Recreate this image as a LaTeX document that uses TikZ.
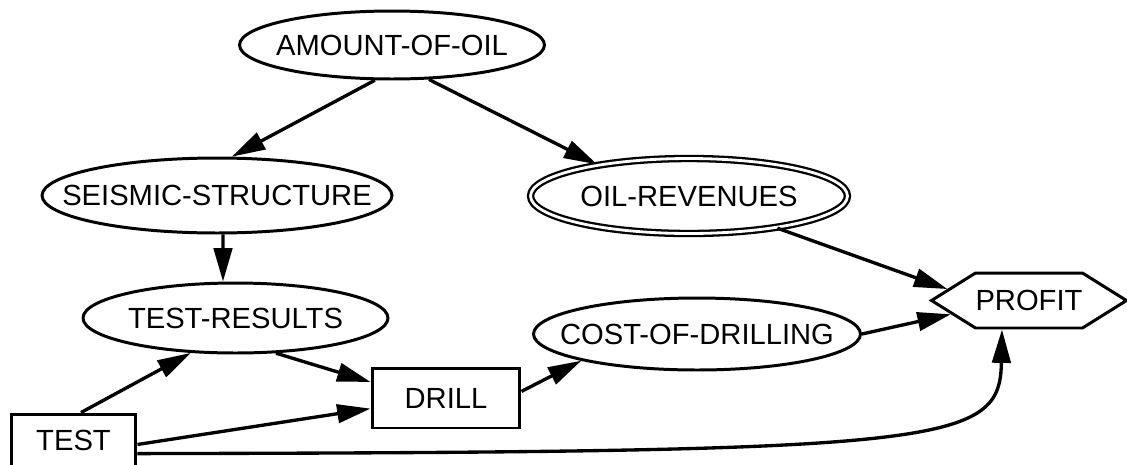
\documentclass[tikz,border=0pt]{standalone}
\usepackage{fontspec}
\setmainfont{Liberation Sans}
\usetikzlibrary{shapes.geometric,shapes.symbols,arrows.meta}

\begin{document}
\begin{tikzpicture}[x=0.02cm, y=-0.02cm,
		every node/.style={font=\fontsize{16.6pt}{19pt}\selectfont},
		oval/.style={ellipse, draw, line width=1.7pt, inner sep=0pt},
		box/.style={rectangle, draw, line width=1.7pt, inner sep=0pt},
		arr/.style={-{Triangle[length=19pt,width=10.5pt]}, line width=1.9pt}]
		\useasboundingbox (0,0) rectangle (1127,464);
		
		\node[oval, minimum width=6.1cm, minimum height=1.36cm, label=center:{AMOUNT-OF-OIL}] (amount) at (392,45) {};
		\node[oval, minimum width=7cm, minimum height=1.5cm, label=center:{SEISMIC-STRUCTURE}] (seismic) at (217,195.5) {};
		\node[oval, minimum width=6.1cm, minimum height=1.4cm, label=center:{TEST-RESULTS}] (results) at (235.5,318) {};
		\node[oval, double, double distance=1.6pt, line width=1.3pt, minimum width=6.34cm, minimum height=1.5cm, label=center:{OIL-REVENUES}] (oil) at (689,196) {};
		\node[oval, minimum width=6.54cm, minimum height=1.44cm, label=center:{COST-OF-DRILLING}] (cost) at (697,334) {};
		\node[box, minimum width=2.96cm, minimum height=1.2cm] (drill) at (446,398) {DRILL};
		\node[box, minimum width=2.5cm, minimum height=1.04cm] (test) at (73.5,440) {TEST};
		\node[signal, draw, line width=1.7pt, signal to=west and east, signal pointer angle=64, inner xsep=0pt, minimum height=1.1cm] (profit) at (1029,300.5) {PROFIT};
		
		\draw[arr] (amount.244) -- (seismic.69);
		\draw[arr] (amount.317) -- (oil.161);
		\draw[arr] ([xshift=0.12cm]seismic.south) -- ([xshift=-0.25cm]results.north);
		\draw[arr] ([xshift=0.15cm]test.north) -- (results.218);
		\draw[arr] (results.319) -- (drill.168);
		\draw[arr] (test.356) -- (drill.188);
		\draw[arr] (drill.5) -- (cost.193);
		\draw[arr] (oil.340) -- (profit.172);
		\draw[arr] (cost.east) -- (profit.190);
		\draw[arr] (test.348) .. controls (950,452) and (1000,445) .. (profit.227);
	\end{tikzpicture}
\end{document}
